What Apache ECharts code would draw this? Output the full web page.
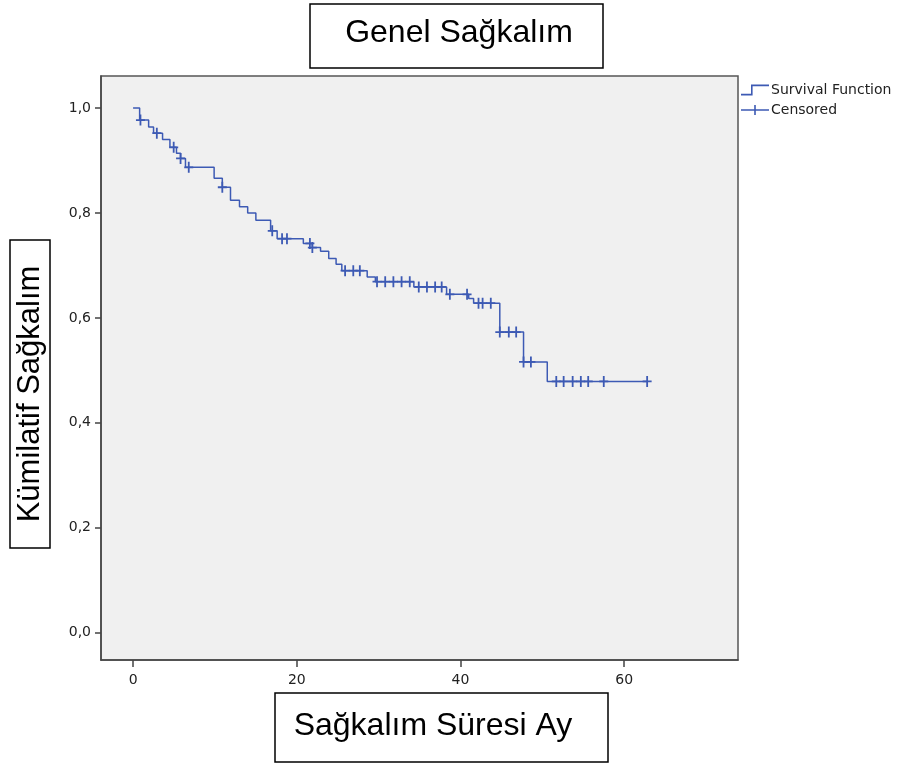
<!DOCTYPE html>
<html>
<head>
<meta charset="utf-8">
<script src="https://cdn.jsdelivr.net/npm/echarts@6/dist/echarts.min.js"></script>
<style>html,body{margin:0;padding:0;background:#fff}#c{width:904px;height:767px}</style>
</head>
<body>
<div id="c"></div>
<script>
// Kaplan-Meier step: time of event and survival after it
const eventTimes = [0, 0.8, 1.9, 2.5, 3.6, 4.5, 5.3, 5.8, 6.4, 9.9, 10.9, 11.9, 13.0, 14.0, 15.0, 16.8, 17.6, 20.8, 21.9, 22.9, 23.9, 24.8, 25.5, 28.6, 29.6, 34.3, 38.3, 41.0, 41.6, 44.8, 47.7, 50.6, 62.8];
const survival   = [1.0, 0.977, 0.964, 0.952, 0.940, 0.925, 0.914, 0.904, 0.887, 0.866, 0.849, 0.824, 0.812, 0.800, 0.786, 0.766, 0.751, 0.742, 0.734, 0.727, 0.713, 0.702, 0.690, 0.678, 0.669, 0.659, 0.645, 0.637, 0.628, 0.573, 0.516, 0.479, 0.479];
// censored observations
const censorTimes = [0.9, 2.9, 4.96, 5.8, 6.8, 10.9, 17.0, 18.2, 18.8, 21.6, 21.9, 25.9, 26.9, 27.7, 29.8, 30.8, 31.8, 32.8, 33.8, 34.9, 35.9, 36.9, 37.7, 38.7, 40.8, 42.2, 42.7, 43.7, 44.8, 45.9, 46.8, 47.7, 48.6, 51.7, 52.6, 53.7, 54.7, 55.6, 57.5, 62.8];
const censorSurv  = [0.977, 0.952, 0.925, 0.904, 0.887, 0.849, 0.766, 0.751, 0.751, 0.742, 0.734, 0.690, 0.690, 0.690, 0.669, 0.669, 0.669, 0.669, 0.669, 0.659, 0.659, 0.659, 0.659, 0.645, 0.645, 0.628, 0.628, 0.628, 0.573, 0.573, 0.573, 0.516, 0.516, 0.479, 0.479, 0.479, 0.479, 0.479, 0.479, 0.479];
const xTicks = [0, 20, 40, 60];
const yTicks = [0, 0.2, 0.4, 0.6, 0.8, 1.0];
const titleText = 'Genel Sağkalım';
const xTitle = 'Sağkalım Süresi Ay';
const yTitle = 'Kümilatif Sağkalım';
const seriesNames = ['Survival Function', 'Censored'];

const blue = '#3d5ab4';
const font = '"Liberation Sans", Arial, sans-serif';
const smallFont = '"DejaVu Sans", sans-serif';
const plusPath = 'path://M3.6,0H5.4V4.6H9V6.4H5.4V11H3.6V6.4H0V4.6H3.6Z';
const stepIcon = 'path://M0,9.2H10V0H28V1.6H11.6V10.8H0Z';
const censIcon = 'path://M0,4.3H13.2V0H14.8V4.3H28V5.7H14.8V10H13.2V5.7H0Z';

const chart = echarts.init(document.getElementById('c'), null, {renderer: 'canvas'});
const fmt = v => v.toFixed(1).replace('.', ',');
chart.setOption({
  backgroundColor: '#fff',
  animation: false,
  grid: {left: 101, top: 76, width: 637, height: 584, show: true, backgroundColor: '#f0f0f0', borderColor: '#555', borderWidth: 1.5},
  xAxis: {
    type: 'value', min: -3.92, max: 73.9,
    axisLine: {show: true, onZero: false, lineStyle: {color: '#444', width: 1.5}},
    axisTick: {show: true, customValues: xTicks, length: 7, lineStyle: {color: '#444', width: 1.5}},
    axisLabel: {customValues: xTicks, color: '#222', fontSize: 14, fontFamily: smallFont, margin: 13},
    splitLine: {show: false}
  },
  yAxis: {
    type: 'value', min: -0.052, max: 1.061,
    axisLine: {show: true, onZero: false, lineStyle: {color: '#444', width: 1.5}},
    axisTick: {show: true, customValues: yTicks, length: 6, lineStyle: {color: '#444', width: 1.5}},
    axisLabel: {customValues: yTicks, formatter: fmt, color: '#222', fontSize: 14, fontFamily: smallFont, margin: 10},
    splitLine: {show: false}
  },
  legend: {
    orient: 'vertical', left: 736, top: 78, itemGap: 6, itemWidth: 28, itemHeight: 11,
    textStyle: {fontSize: 14, color: '#222', fontFamily: smallFont, padding: [0, 0, 0, -3]},
    data: [{name: seriesNames[0], icon: stepIcon}, {name: seriesNames[1], icon: censIcon}]
  },
  series: [
    {
      name: seriesNames[0], type: 'line', step: 'end', symbol: 'none',
      data: eventTimes.map((t, i) => [t, survival[i]]),
      lineStyle: {color: blue, width: 1.5}, itemStyle: {color: blue}
    },
    {
      name: seriesNames[1], type: 'scatter', symbol: plusPath, symbolSize: [9, 11],
      data: censorTimes.map((t, i) => [t, censorSurv[i]]),
      itemStyle: {color: blue, opacity: 1}
    }
  ],
  graphic: [
    {type: 'rect', shape: {x: 310, y: 4, width: 293, height: 64}, style: {fill: '#fff', stroke: '#000', lineWidth: 1.5}},
    {type: 'text', x: 459, y: 33, style: {text: titleText, font: '32px ' + font, fill: '#000', textAlign: 'center', textVerticalAlign: 'middle'}},
    {type: 'rect', shape: {x: 10, y: 240, width: 40, height: 308}, style: {fill: '#fff', stroke: '#000', lineWidth: 1.5}},
    {type: 'text', x: 30, y: 394, rotation: Math.PI / 2, style: {text: yTitle, font: '31px ' + font, fill: '#000', textAlign: 'center', textVerticalAlign: 'middle'}},
    {type: 'rect', shape: {x: 275, y: 693, width: 333, height: 69}, style: {fill: '#fff', stroke: '#000', lineWidth: 1.5}},
    {type: 'text', x: 433, y: 726, style: {text: xTitle, font: '32px ' + font, fill: '#000', textAlign: 'center', textVerticalAlign: 'middle'}}
  ]
});
</script>
</body>
</html>
